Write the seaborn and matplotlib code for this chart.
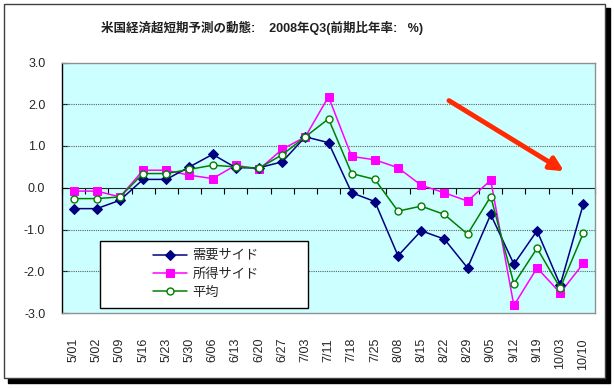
import numpy as np
import seaborn as sns
import matplotlib
matplotlib.use("Agg")
import matplotlib.pyplot as plt
from matplotlib.patches import Rectangle

# data
dates = ["5/01", "5/02", "5/09", "5/16", "5/23", "5/30", "6/06", "6/13", "6/20",
         "6/27", "7/03", "7/11", "7/18", "7/25", "8/08", "8/15", "8/22", "8/29",
         "9/05", "9/12", "9/19", "10/03", "10/10"]
demand = [-0.5, -0.5, -0.3, 0.2, 0.2, 0.5, 0.8, 0.48, 0.48, 0.62, 1.22, 1.08, -0.12,
          -0.33, -1.63, -1.03, -1.23, -1.92, -0.64, -1.83, -1.03, -2.33, -0.38]
income = [-0.08, -0.08, -0.22, 0.42, 0.42, 0.3, 0.22, 0.54, 0.44, 0.92, 1.22, 2.18,
          0.75, 0.67, 0.48, 0.06, -0.12, -0.32, 0.18, -2.82, -1.92, -2.52, -1.81]
average = [-0.26, -0.26, -0.22, 0.34, 0.34, 0.44, 0.54, 0.5, 0.47, 0.79, 1.22, 1.65,
           0.34, 0.2, -0.56, -0.44, -0.64, -1.11, -0.21, -2.3, -1.45, -2.4, -1.08]
yticks = [3.0, 2.0, 1.0, 0.0, -1.0, -2.0, -3.0]
title = "米国経済超短期予測の動態:    2008年Q3(前期比年率:   %)"

sns.set_style("white")
plt.rcParams['font.family'] = ['Liberation Sans', 'Noto Sans CJK JP']

W, H = 614, 389
fig = plt.figure(figsize=(W / 100, H / 100), dpi=100)

# outer frame with shadow
fig.patches.append(Rectangle((8 / W, 1 - 383 / H), 602 / W, 375 / H,
                             transform=fig.transFigure, facecolor='black',
                             edgecolor='black', zorder=-3))
fig.patches.append(Rectangle((4 / W, 1 - 378 / H), 601 / W, 374 / H,
                             transform=fig.transFigure, facecolor='white',
                             edgecolor='#404040', lw=1, zorder=-2))

ax = fig.add_axes([62 / W, 1 - 313 / H, 533 / W, 250.5 / H])
ax.set_facecolor('#ccffff')

x = np.arange(len(dates))
sns.lineplot(x=x, y=demand, ax=ax, color='#000080', marker='D', markersize=5.5,
             markeredgecolor='#000080', lw=1.1, label='需要サイド', zorder=4)
sns.lineplot(x=x, y=income, ax=ax, color='#ff00ff', marker='s', markersize=6,
             markeredgecolor='#ff00ff', lw=1.1, label='所得サイド', zorder=3)
sns.lineplot(x=x, y=average, ax=ax, color='#008000', marker='o', markersize=5,
             markerfacecolor='white', markeredgecolor='#008000', markeredgewidth=1,
             lw=1.1, label='平均', zorder=5)

ax.set_xlim(-0.5, len(dates) - 0.5)
ax.set_ylim(-3, 3)
ax.set_yticks(yticks)
ax.set_yticklabels([f"{v:.1f}" for v in yticks], fontsize=9)
ax.set_xticks(x)
ax.set_xticklabels(dates, rotation=90, fontsize=9, va='top')
ax.tick_params(axis='x', length=0, pad=18)
ax.tick_params(axis='y', direction='in', length=4, pad=12, color='black', left=True)

for v in yticks[1:-1]:
    if v != 0:
        ax.axhline(v, color='#606060', lw=0.8, ls=(0, (1, 1)), zorder=1)

for s in ['top', 'right', 'bottom']:
    ax.spines[s].set_color('#909090')
    ax.spines[s].set_linewidth(1)
ax.spines['left'].set_color('black')
ax.spines['left'].set_linewidth(1)

# category axis crossing at zero, ticks between categories
sec = ax.secondary_xaxis(0.5)
sec.set_xticks(np.arange(len(dates) + 1) - 0.5)
sec.set_xticklabels([])
sec.tick_params(direction='in', length=4, color='black')
sec.spines['bottom'].set_color('black')
sec.spines['bottom'].set_linewidth(1)

# legend box
ax.add_patch(Rectangle((0.071, 0.02), 0.39, 0.268, transform=ax.transAxes,
                       facecolor='white', edgecolor='black', lw=1, zorder=8))
leg = ax.legend(loc='center', bbox_to_anchor=(0.27, 0.154), frameon=False,
                fontsize=9.5, handlelength=2.6, handletextpad=0.4, labelspacing=0.45)
leg.set_zorder(9)

# red arrow
ax.annotate("", xy=(0.942, 0.566), xytext=(0.726, 0.848),
            xycoords='axes fraction', textcoords='axes fraction',
            arrowprops=dict(arrowstyle='-|>,head_length=0.8,head_width=0.4',
                            color='#ff2a00', lw=3.5, shrinkA=0, shrinkB=0),
            zorder=7)

fig.text(262 / W, 1 - 28 / H, title, ha='center', va='center', fontsize=9,
         fontweight='bold', color='#202020')

fig.savefig("out.png", dpi=100)
